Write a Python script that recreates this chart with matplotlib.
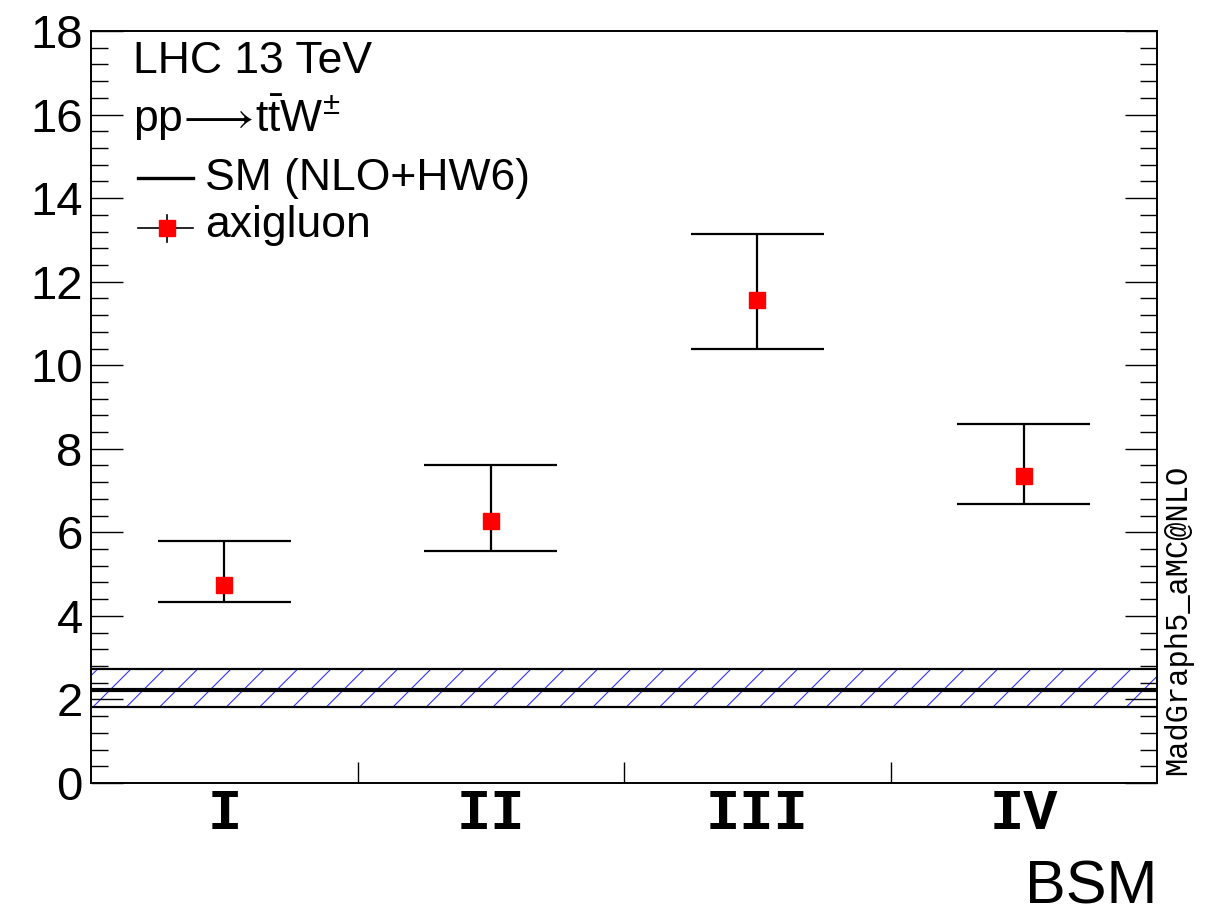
import matplotlib
matplotlib.use("Agg")
import matplotlib.pyplot as plt
from matplotlib.ticker import MultipleLocator, FixedLocator, NullFormatter, FixedFormatter

# data
labels = ["I", "II", "III", "IV"]
axi_val = [4.74, 6.27, 11.56, 7.34]
axi_up = [5.79, 7.61, 13.13, 8.59]
axi_lo = [4.33, 5.55, 10.38, 6.67]
sm_val = 2.22
sm_up = 2.73
sm_lo = 1.82

plt.rcParams['font.family'] = ['Liberation Sans', 'DejaVu Sans']
plt.rcParams['mathtext.fontset'] = 'custom'
plt.rcParams['mathtext.rm'] = 'Liberation Sans'
plt.rcParams['mathtext.it'] = 'Liberation Sans:italic'
plt.rcParams['hatch.linewidth'] = 0.8

fig = plt.figure(figsize=(12.09, 9.18), dpi=100)
ax = fig.add_axes([91/1209, 135/918, 1066/1209, 752/918])

centers = [i + 0.5 for i in range(len(labels))]

# SM band
ax.fill_between([0, len(labels)], sm_lo, sm_up, facecolor='none',
                edgecolor=(0.2, 0.2, 1.0), linewidth=0, hatch='/', zorder=1)
ax.axhline(sm_up, color='black', lw=1.6, zorder=2)
ax.axhline(sm_lo, color='black', lw=1.6, zorder=2)
ax.axhline(sm_val, color='black', lw=3.0, zorder=2)

# axigluon points with error bars
for c, v, u, l in zip(centers, axi_val, axi_up, axi_lo):
    ax.vlines(c, l, u, color='black', lw=1.6, zorder=3)
    ax.hlines([u, l], c - 0.25, c + 0.25, color='black', lw=1.6, zorder=3)
ax.plot(centers, axi_val, ls='none', marker='s', ms=12, color='red',
        mec='red', zorder=4)

ax.set_xlim(0, len(labels))
ax.set_ylim(0, 18)

for s in ax.spines.values():
    s.set_linewidth(1.4)

ax.yaxis.set_major_locator(MultipleLocator(2))
ax.yaxis.set_minor_locator(MultipleLocator(0.4))
ax.tick_params(axis='y', which='major', direction='in', length=23, width=1.0,
               right=True, labelsize=34, pad=6)
ax.tick_params(axis='y', which='minor', direction='in', length=12, width=1.0,
               right=True)

ax.xaxis.set_major_locator(FixedLocator([1, 2, 3]))
ax.xaxis.set_major_formatter(NullFormatter())
ax.xaxis.set_minor_locator(FixedLocator(centers))
ax.xaxis.set_minor_formatter(FixedFormatter(labels))
ax.tick_params(axis='x', which='major', direction='in', length=15, width=1.0, top=False)
ax.tick_params(axis='x', which='minor', length=0, pad=3, top=False)
for t in ax.xaxis.get_minorticklabels():
    t.set_family('Liberation Mono')
    t.set_fontweight('bold')
    t.set_fontsize(41)

ax.set_xlabel("BSM", fontsize=44, loc='right', labelpad=13)

# legend / labels
ax.text(0.0394, 0.944, "LHC 13 TeV", transform=ax.transAxes, fontsize=32, va='baseline')
ax.text(0.0394, 0.8657, r'pp$\!\longrightarrow\!$t$\bar{\mathrm{t}}$W$^{\pm}$',
        transform=ax.transAxes, fontsize=32, va='baseline')
ax.plot([0.0441, 0.0957], [0.8045, 0.8045], color='black', lw=2.4, transform=ax.transAxes)
ax.text(0.1069, 0.7886, "SM (NLO+HW6)", transform=ax.transAxes, fontsize=32, va='baseline')
ax.plot([0.0441, 0.0957], [0.738, 0.738], color='black', lw=1.2, transform=ax.transAxes)
ax.plot([0.0713, 0.0713], [0.719, 0.755], color='black', lw=1.2, transform=ax.transAxes)
ax.plot([0.0713], [0.738], marker='s', ms=12, color='red', transform=ax.transAxes)
ax.text(0.1069, 0.726, "axigluon", transform=ax.transAxes, fontsize=32, va='baseline')

fig.text(1178/1209, (918 - 775)/918, "MadGraph5_aMC@NLO", rotation=90,
         family='Liberation Mono', fontsize=22, ha='center', va='bottom')

fig.savefig("out.png", dpi=100)
